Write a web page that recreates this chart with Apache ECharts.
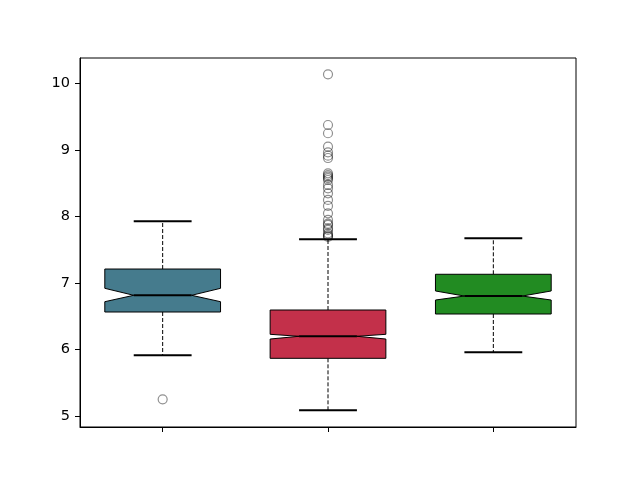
<!DOCTYPE html>
<html>
<head>
<meta charset="utf-8">
<script src="https://cdn.jsdelivr.net/npm/echarts@6/dist/echarts.min.js"></script>
<style>html,body{margin:0;padding:0;background:#fff;}#c{width:640px;height:480px;}</style>
</head>
<body>
<div id="c"></div>
<script>
var categories = ['A', 'B', 'C'];
var lowWhisker = [5.912, 5.086, 5.957];
var q1 = [6.563, 5.867, 6.533];
var notchLow = [6.718, 6.157, 6.743];
var median = [6.814, 6.198, 6.803];
var notchHigh = [6.919, 6.228, 6.879];
var q3 = [7.209, 6.593, 7.130];
var highWhisker = [7.926, 7.656, 7.671];
var boxColors = ['#457b8d', '#c3304a', '#228b22'];
var outlierCategory = [0, 1, 1, 1, 1, 1, 1, 1, 1, 1, 1, 1, 1, 1, 1, 1, 1, 1, 1, 1, 1, 1, 1, 1, 1, 1, 1, 1];
var outlierValue = [5.251, 10.135, 9.373, 9.249, 9.047, 8.963, 8.912, 8.877, 8.647, 8.62, 8.596, 8.575, 8.547, 8.472, 8.422, 8.347, 8.247, 8.157, 8.046, 7.946, 7.89, 7.872, 7.82, 7.797, 7.746, 7.72, 7.705, 7.69];
var yTicks = [5, 6, 7, 8, 9, 10];

var boxData = categories.map(function (c, i) {
  return [i, lowWhisker[i], q1[i], notchLow[i], median[i], notchHigh[i], q3[i], highWhisker[i]];
});
var outlierData = outlierValue.map(function (v, i) { return [outlierCategory[i], v]; });

function renderBox(params, api) {
  var idx = api.value(0);
  var band = api.size([1, 0])[0];
  var half = band * 0.35;
  var capHalf = band * 0.175;
  var cx = api.coord([idx, 0])[0];
  var y = function (k) { return api.coord([idx, api.value(k)])[1]; };
  var yLow = y(1), yQ1 = y(2), yNL = y(3), yMed = y(4), yNH = y(5), yQ3 = y(6), yHigh = y(7);
  var L = cx - half, R = cx + half, cL = cx - capHalf, cR = cx + capHalf;
  var black = '#000';
  return {
    type: 'group',
    children: [
      { type: 'line', shape: { x1: cx, y1: yQ1, x2: cx, y2: yLow }, style: { stroke: black, lineWidth: 1, lineDash: [4, 2] } },
      { type: 'line', shape: { x1: cx, y1: yQ3, x2: cx, y2: yHigh }, style: { stroke: black, lineWidth: 1, lineDash: [4, 2] } },
      { type: 'line', shape: { x1: cL, y1: yLow, x2: cR, y2: yLow }, style: { stroke: black, lineWidth: 2 } },
      { type: 'line', shape: { x1: cL, y1: yHigh, x2: cR, y2: yHigh }, style: { stroke: black, lineWidth: 2 } },
      { type: 'polygon', shape: { points: [[L, yQ1], [R, yQ1], [R, yNL], [cR, yMed], [R, yNH], [R, yQ3], [L, yQ3], [L, yNH], [cL, yMed], [L, yNL]] },
        style: { fill: boxColors[params.dataIndex], stroke: black, lineWidth: 1 } },
      { type: 'line', shape: { x1: cL, y1: yMed, x2: cR, y2: yMed }, style: { stroke: black, lineWidth: 2 } }
    ]
  };
}

var chart = echarts.init(document.getElementById('c'), null, { renderer: 'canvas' });
chart.setOption({
  animation: false,
  backgroundColor: '#fff',
  grid: { left: 80, right: 64, top: 58, bottom: 53, show: true, borderColor: '#000', borderWidth: 1, backgroundColor: 'transparent' },
  xAxis: {
    type: 'category',
    data: categories,
    boundaryGap: true,
    axisLine: { show: true, lineStyle: { color: '#000', width: 1 } },
    axisTick: { show: true, alignWithLabel: true, length: 5, lineStyle: { color: '#000' } },
    axisLabel: { show: false },
    splitLine: { show: false }
  },
  yAxis: {
    type: 'value',
    min: 4.835,
    max: 10.38,
    axisLine: { show: true, lineStyle: { color: '#000', width: 1 } },
    axisTick: { show: true, length: 5, lineStyle: { color: '#000' }, customValues: yTicks },
    axisLabel: { color: '#000', fontFamily: 'DejaVu Sans', fontSize: 14.5, margin: 10, customValues: yTicks },
    splitLine: { show: false }
  },
  series: [
    { type: 'custom', renderItem: renderBox, data: boxData, z: 2, encode: { x: 0, y: [1, 7] } },
    { type: 'scatter', data: outlierData, symbol: 'circle', symbolSize: 9, z: 3,
      itemStyle: { color: 'rgba(0,0,0,0)', borderColor: 'rgba(0,0,0,0.55)', borderWidth: 1.2 } }
  ]
});
</script>
</body>
</html>
